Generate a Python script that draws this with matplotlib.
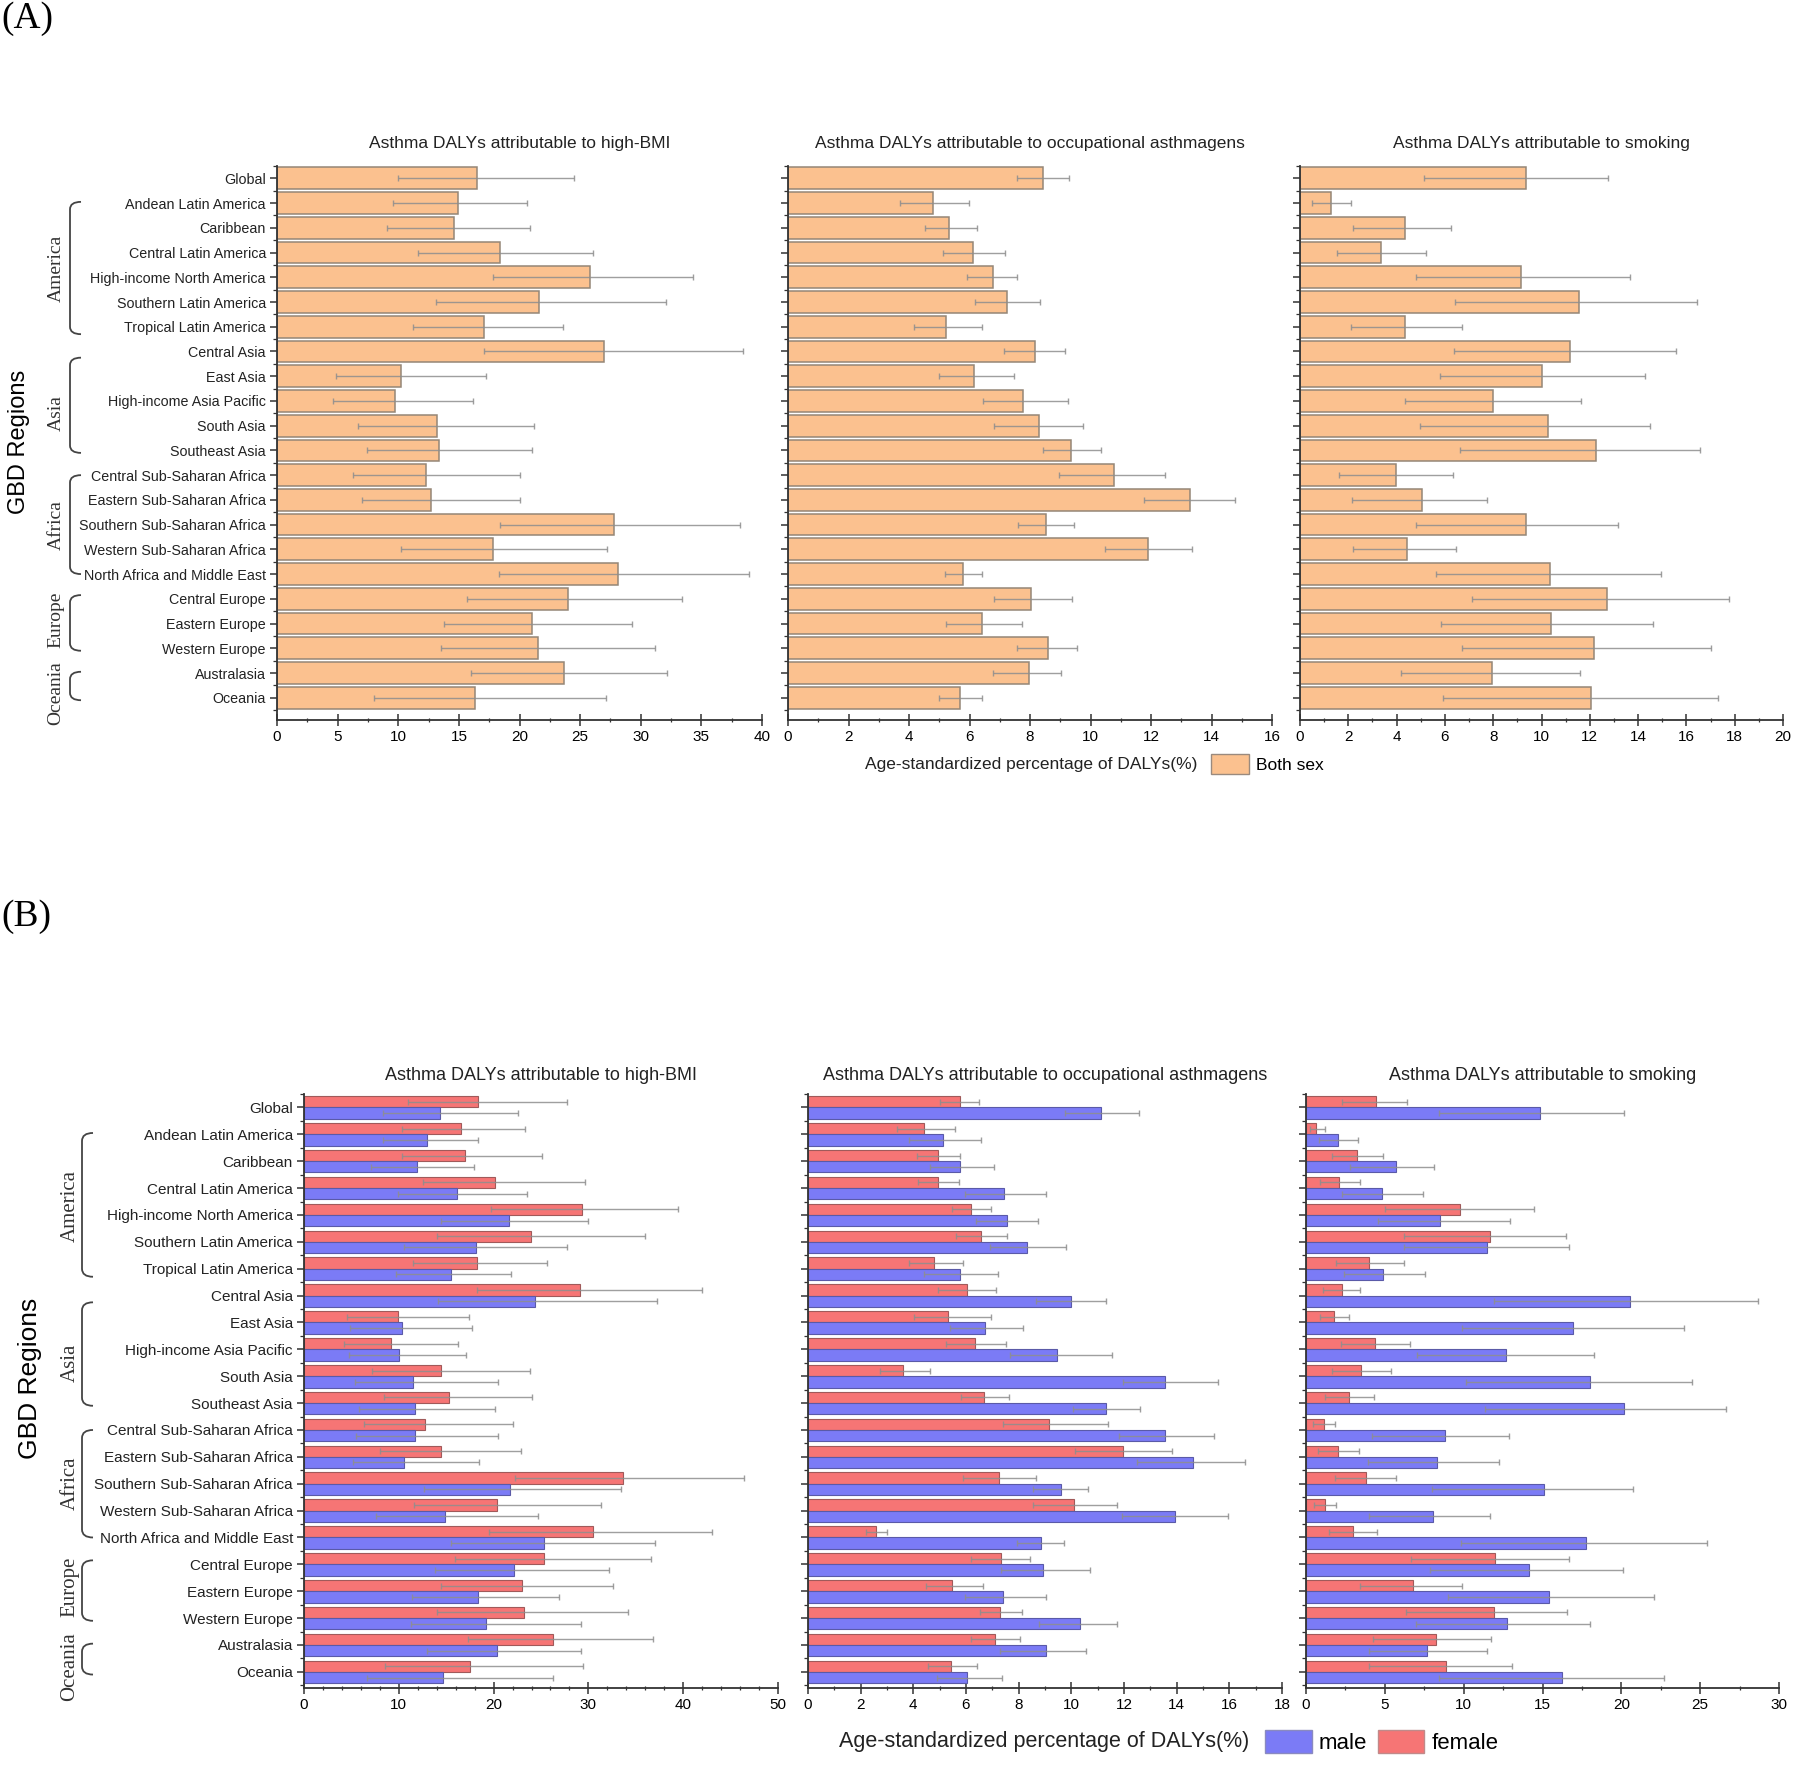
import numpy as np
import matplotlib
matplotlib.use("Agg")
import matplotlib.pyplot as plt
from matplotlib.path import Path
from matplotlib.patches import PathPatch, Patch
from matplotlib.ticker import AutoMinorLocator, MultipleLocator
from matplotlib.transforms import blended_transform_factory

plt.rcParams['font.family'] = ['Liberation Sans', 'DejaVu Sans']

regions = ["Global", "Andean Latin America", "Caribbean", "Central Latin America",
           "High-income North America", "Southern Latin America", "Tropical Latin America",
           "Central Asia", "East Asia", "High-income Asia Pacific", "South Asia", "Southeast Asia",
           "Central Sub-Saharan Africa", "Eastern Sub-Saharan Africa", "Southern Sub-Saharan Africa",
           "Western Sub-Saharan Africa", "North Africa and Middle East", "Central Europe",
           "Eastern Europe", "Western Europe", "Australasia", "Oceania"]

titles = ["Asthma DALYs attributable to high-BMI",
          "Asthma DALYs attributable to occupational asthmagens",
          "Asthma DALYs attributable to smoking"]

# group brackets: name, first row, last row, where the label sits (row positions)
groups = ["America", "Asia", "Africa", "Europe", "Oceania"]
group_start = [0.95, 7.25, 12.0, 16.85, 19.95]
group_end = [6.3, 11.1, 16.0, 19.1, 21.1]
group_mid = [3.65, 9.5, 14.0, 17.85, 20.8]

# ---- (A) both sexes: value, lower, upper ----
bmi_both = [16.5, 14.9, 14.6, 18.4, 25.8, 21.6, 17.1, 27.0, 10.2, 9.7, 13.2, 13.4,
            12.3, 12.7, 27.8, 17.8, 28.1, 24.0, 21.0, 21.5, 23.7, 16.3]
bmi_both_lo = [10.0, 9.6, 9.1, 11.6, 17.8, 13.1, 11.2, 17.1, 4.9, 4.65, 6.7, 7.4,
               6.3, 7.0, 18.4, 10.2, 18.3, 15.7, 13.8, 13.5, 16.0, 8.0]
bmi_both_hi = [24.5, 20.6, 20.9, 26.1, 34.3, 32.1, 23.6, 38.4, 17.2, 16.2, 21.2, 21.0,
               20.0, 20.0, 38.2, 27.2, 38.9, 33.4, 29.3, 31.2, 32.2, 27.1]

occ_both = [8.42, 4.78, 5.33, 6.11, 6.78, 7.24, 5.21, 8.15, 6.15, 7.78, 8.31, 9.34,
            10.78, 13.3, 8.54, 11.91, 5.78, 8.02, 6.40, 8.58, 7.97, 5.69]
occ_both_lo = [7.56, 3.71, 4.52, 5.12, 5.93, 6.19, 4.15, 7.15, 5.0, 6.44, 6.80, 8.44,
               8.97, 11.77, 7.59, 10.47, 5.19, 6.80, 5.23, 7.56, 6.77, 5.0]
occ_both_hi = [9.29, 5.97, 6.24, 7.19, 7.57, 8.33, 6.40, 9.15, 7.47, 9.25, 9.76, 10.34,
               12.45, 14.77, 9.47, 13.35, 6.40, 9.38, 7.73, 9.55, 9.04, 6.41]

smk_both = [9.37, 1.28, 4.33, 3.34, 9.15, 11.57, 4.33, 11.2, 10.0, 8.01, 10.27, 12.24,
            3.98, 5.04, 9.37, 4.44, 10.36, 12.72, 10.38, 12.17, 7.95, 12.06]
smk_both_lo = [5.14, 0.51, 2.18, 1.54, 4.81, 6.40, 2.10, 6.36, 5.81, 4.33, 4.97, 6.63,
               1.61, 2.17, 4.81, 2.18, 5.63, 7.13, 5.85, 6.69, 4.18, 5.92]
smk_both_hi = [12.77, 2.10, 6.24, 5.21, 13.67, 16.44, 6.72, 15.59, 14.3, 11.62, 14.48, 16.57,
               6.35, 7.76, 13.17, 6.48, 14.96, 17.77, 14.6, 17.03, 11.61, 17.32]

# ---- (B) by sex ----
bmi_f = [18.4, 16.6, 17.0, 20.2, 29.3, 23.9, 18.2, 29.1, 9.9, 9.2, 14.5, 15.3,
         12.8, 14.5, 33.7, 20.4, 30.5, 25.3, 23.0, 23.2, 26.3, 17.5]
bmi_f_lo = [10.95, 10.3, 10.3, 12.6, 19.7, 14.0, 11.5, 18.2, 4.5, 4.2, 7.2, 8.4,
            6.3, 8.0, 22.3, 11.6, 19.5, 15.9, 14.4, 14.0, 17.3, 8.5]
bmi_f_hi = [27.7, 23.3, 25.1, 29.6, 39.5, 36.0, 25.6, 42.0, 17.4, 16.2, 23.8, 24.0,
            22.0, 22.9, 46.4, 31.3, 43.0, 36.6, 32.6, 34.2, 36.8, 29.4]
bmi_m = [14.3, 13.0, 11.9, 16.1, 21.6, 18.1, 15.5, 24.4, 10.3, 10.0, 11.5, 11.7,
         11.7, 10.6, 21.7, 14.85, 25.3, 22.1, 18.4, 19.2, 20.4, 14.7]
bmi_m_lo = [8.3, 8.3, 7.05, 9.9, 14.4, 10.5, 9.7, 14.1, 4.9, 4.75, 5.4, 5.8,
            5.5, 5.2, 12.7, 7.6, 15.5, 13.8, 11.4, 11.3, 13.0, 6.6]
bmi_m_hi = [22.6, 18.4, 17.9, 23.5, 30.0, 27.7, 21.8, 37.2, 17.7, 17.1, 20.5, 20.2,
            20.5, 18.5, 33.4, 24.7, 37.0, 32.2, 26.9, 29.2, 29.2, 26.3]

occ_f = [5.77, 4.42, 4.93, 4.93, 6.19, 6.56, 4.77, 6.02, 5.31, 6.35, 3.62, 6.67,
         9.14, 11.98, 7.27, 10.11, 2.6, 7.32, 5.48, 7.29, 7.1, 5.43]
occ_f_lo = [5.02, 3.39, 4.13, 4.17, 5.45, 5.63, 3.82, 4.92, 4.04, 5.23, 2.73, 5.82,
            7.42, 10.13, 5.88, 8.56, 2.21, 6.2, 4.49, 6.53, 6.18, 4.55]
occ_f_hi = [6.5, 5.59, 5.79, 5.73, 6.95, 7.55, 5.9, 7.15, 6.94, 7.51, 4.62, 7.64,
            11.4, 13.81, 8.67, 11.73, 3.01, 8.44, 6.66, 8.12, 8.04, 6.4]
occ_m = [11.14, 5.13, 5.79, 7.46, 7.56, 8.32, 5.79, 10.0, 6.72, 9.44, 13.57, 11.3,
         13.57, 14.61, 9.59, 13.95, 8.84, 8.92, 7.42, 10.32, 9.02, 6.02]
occ_m_lo = [9.77, 3.84, 4.65, 5.95, 6.39, 6.9, 4.41, 8.67, 5.4, 7.67, 11.97, 10.05,
            11.8, 12.5, 8.53, 11.91, 7.94, 7.33, 5.95, 8.77, 7.29, 4.88]
occ_m_hi = [12.58, 6.56, 7.05, 9.03, 8.73, 9.81, 7.23, 11.32, 8.16, 11.54, 15.58, 12.6,
            15.43, 16.6, 10.64, 15.96, 9.71, 10.7, 9.02, 11.73, 10.56, 7.37]

smk_f = [4.44, 0.66, 3.24, 2.12, 9.75, 11.66, 3.98, 2.28, 1.8, 4.4, 3.51, 2.73,
         1.12, 2.03, 3.79, 1.21, 2.98, 12.0, 6.79, 11.91, 8.25, 8.91]
smk_f_lo = [2.28, 0.28, 1.65, 0.91, 5.03, 6.24, 1.88, 1.06, 0.91, 2.24, 1.65, 1.18,
            0.44, 0.74, 1.82, 0.49, 1.48, 6.66, 3.43, 6.37, 4.27, 4.0]
smk_f_hi = [6.39, 1.18, 4.87, 3.43, 14.45, 16.46, 6.2, 3.41, 2.73, 6.62, 5.39, 4.29,
            1.86, 3.36, 5.69, 1.93, 4.48, 16.69, 9.9, 16.54, 11.74, 13.05]
smk_m = [14.85, 2.0, 5.69, 4.84, 8.5, 11.51, 4.91, 20.54, 16.92, 12.69, 18.02, 20.2,
         8.82, 8.31, 15.08, 8.08, 17.73, 14.13, 15.4, 12.74, 7.7, 16.25]
smk_m_lo = [8.42, 0.83, 2.81, 2.31, 4.55, 6.2, 2.43, 11.91, 9.9, 7.04, 10.15, 11.38,
            4.17, 3.91, 7.98, 4.02, 9.84, 7.89, 9.03, 7.0, 4.0, 8.42]
smk_m_hi = [20.14, 3.3, 8.12, 7.4, 12.97, 16.67, 7.53, 28.64, 23.97, 18.26, 24.5, 26.61,
            12.9, 12.23, 20.77, 11.64, 25.43, 20.12, 22.06, 18.0, 11.47, 22.72]

ORANGE = '#FBC18F'
BLUE = '#7B7BF6'
RED = '#F67575'
ECOL = '#8e8e8e'
SERIF = ['Liberation Serif', 'DejaVu Serif']

W, H = 1800, 1768
fig = plt.figure(figsize=(W / 100, H / 100), dpi=100)
ypos = np.arange(len(regions))


def err(ax, vals, lo, hi, y):
    vals = np.array(vals)
    ax.errorbar(vals, y, xerr=[vals - np.array(lo), np.array(hi) - vals], fmt='none',
                ecolor=ECOL, elinewidth=1.0, capsize=2.5, capthick=1.0, alpha=0.85, zorder=3)


def style_axis(ax, xmax, major, nminor, ylim, show_labels, lab_size, tick_size):
    ax.set_xlim(0, xmax)
    ax.set_ylim(*ylim)
    ax.xaxis.set_major_locator(MultipleLocator(major))
    ax.xaxis.set_minor_locator(AutoMinorLocator(nminor))
    ax.set_yticks(ypos)
    ax.set_yticks(np.arange(-0.5, len(regions), 1.0), minor=True)
    for s in ['top', 'right']:
        ax.spines[s].set_visible(False)
    for s in ['left', 'bottom']:
        ax.spines[s].set_linewidth(1.3)
        ax.spines[s].set_color('#333333')
    ax.tick_params(axis='both', which='major', length=5, width=1.1, color='#333333',
                   labelsize=tick_size, pad=3)
    ax.tick_params(axis='both', which='minor', length=3, width=0.9, color='#333333')
    ax.tick_params(axis='x', which='both', direction='inout')
    ax.tick_params(axis='x', which='major', length=8)
    if show_labels:
        ax.set_yticklabels(regions, fontsize=lab_size, color='#222222')
    else:
        ax.set_yticklabels([])


def brackets(ax, xfig_line, xfig_text, size):
    tr = blended_transform_factory(fig.transFigure, ax.transData)
    w = 11 / W
    r = 0.3
    for name, y0, y1, ym in zip(groups, group_start, group_end, group_mid):
        verts = [(xfig_line + w, y0), (xfig_line, y0), (xfig_line, y0 + r),
                 (xfig_line, y1 - r), (xfig_line, y1), (xfig_line + w, y1)]
        codes = [Path.MOVETO, Path.CURVE3, Path.CURVE3, Path.LINETO, Path.CURVE3, Path.CURVE3]
        fig.patches.append(PathPatch(Path(verts, codes), transform=tr, fill=False,
                                     edgecolor='#444444', linewidth=1.3))
        fig.text(xfig_text, ym, name, transform=tr, rotation=90,
                 ha='center', va='center', family=SERIF, fontsize=size, color='#333333')


# ---------------- Panel A ----------------
fig.text(0.001, 0.999, '(A)', ha='left', va='top', family=SERIF, fontsize=27)
a_left = [277 / W, 788 / W, 1300 / W]
a_width = [485 / W, 484 / W, 483 / W]
a_bottom = 1 - 720 / H
a_height = (720 - 166) / H
a_data = [(bmi_both, bmi_both_lo, bmi_both_hi, 40, 5, 2),
          (occ_both, occ_both_lo, occ_both_hi, 16, 2, 2),
          (smk_both, smk_both_lo, smk_both_hi, 20, 2, 2)]
axA = []
for k in range(3):
    ax = fig.add_axes([a_left[k], a_bottom, a_width[k], a_height])
    vals, lo, hi, xmax, major, nminor = a_data[k]
    ax.barh(ypos, vals, height=0.88, color=ORANGE, edgecolor='#958676', linewidth=1.1, zorder=2)
    err(ax, vals, lo, hi, ypos)
    style_axis(ax, xmax, major, nminor, (21.9, -0.5), k == 0, 10.3, 11)
    ax.set_title(titles[k], fontsize=12.5, pad=13, color='#222222')
    axA.append(ax)

fig.text(19 / W, 1 - 442 / H, 'GBD Regions', rotation=90, ha='center', va='center', fontsize=17)
brackets(axA[0], 70 / W, 56 / W, 14)
fig.text(1031 / W, 1 - 764 / H, 'Age-standardized percentage of DALYs(%)',
         ha='center', va='center', fontsize=12.5, color='#222222')
fig.legend(handles=[Patch(facecolor=ORANGE, edgecolor='#9a8a7e', label='Both sex')],
           loc='center left', bbox_to_anchor=(1211 / W, 1 - 764 / H), frameon=False,
           fontsize=12.5, handlelength=2.2, handleheight=1.4, handletextpad=0.4,
           borderpad=0, borderaxespad=0)

# ---------------- Panel B ----------------
fig.text(0.001, 1 - 899 / H, '(B)', ha='left', va='top', family=SERIF, fontsize=27)
b_left = [304 / W, 808 / W, 1306 / W]
b_width = [474 / W, 474 / W, 473 / W]
b_bottom = 1 - 1688 / H
b_height = (1688 - 1094) / H
b_data = [(bmi_f, bmi_f_lo, bmi_f_hi, bmi_m, bmi_m_lo, bmi_m_hi, 50, 10, 5),
          (occ_f, occ_f_lo, occ_f_hi, occ_m, occ_m_lo, occ_m_hi, 18, 2, 2),
          (smk_f, smk_f_lo, smk_f_hi, smk_m, smk_m_lo, smk_m_hi, 30, 5, 2)]
bh = 0.42
axB = []
for k in range(3):
    ax = fig.add_axes([b_left[k], b_bottom, b_width[k], b_height])
    fv, flo, fhi, mv, mlo, mhi, xmax, major, nminor = b_data[k]
    ax.barh(ypos - bh / 2, fv, height=bh, color=RED, edgecolor='#a05a5a', linewidth=0.8, zorder=2)
    ax.barh(ypos + bh / 2, mv, height=bh, color=BLUE, edgecolor='#5a5aa8', linewidth=0.8, zorder=2)
    err(ax, fv, flo, fhi, ypos - bh / 2)
    err(ax, mv, mlo, mhi, ypos + bh / 2)
    style_axis(ax, xmax, major, nminor, (21.6, -0.45), k == 0, 11, 11)
    ax.set_title(titles[k], fontsize=13, pad=10, color='#222222')
    axB.append(ax)

fig.text(30 / W, 1 - 1378 / H, 'GBD Regions', rotation=90, ha='center', va='center', fontsize=19)
brackets(axB[0], 82 / W, 70 / W, 15)
fig.text(1044 / W, 1 - 1742 / H, 'Age-standardized percentage of DALYs(%)',
         ha='center', va='center', fontsize=15.5, color='#222222')
fig.legend(handles=[Patch(facecolor=BLUE, edgecolor='#8a8ac0', label='male'),
                    Patch(facecolor=RED, edgecolor='#c08a8a', label='female')],
           loc='center left', bbox_to_anchor=(1265 / W, 1 - 1742 / H), frameon=False,
           fontsize=16, ncol=2, handlelength=2.1, handleheight=1.2, handletextpad=0.3,
           columnspacing=0.5, borderpad=0, borderaxespad=0)

fig.savefig('out.png', dpi=100)
